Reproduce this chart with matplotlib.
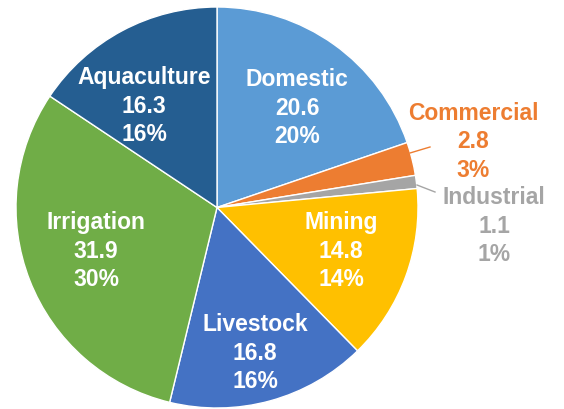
import matplotlib.pyplot as plt

plt.rcParams['font.family'] = ['Liberation Sans', 'DejaVu Sans']

categories = ['Domestic', 'Commercial', 'Industrial', 'Mining', 'Livestock', 'Irrigation', 'Aquaculture']
values = [20.6, 2.8, 1.1, 14.8, 16.8, 31.9, 16.3]
pct_labels = ['20%', '3%', '1%', '14%', '16%', '30%', '16%']
colors = ['#5B9BD5', '#ED7D31', '#A5A5A5', '#FFC000', '#4472C4', '#70AD47', '#255E91']

# pixel layout of the original picture
W, H = 564, 409
cx, cy = 217, 207.5
rx, ry = 201, 200.5
label_px = [(297, 108), (473, 142), (494, 226), (341, 251), (255, 353), (96, 251), (144, 106)]
text_colors = ['white', '#ED7D31', '#A5A5A5', 'white', 'white', 'white', 'white']
leaders = {1: ((410, 153), (430, 147)), 2: ((417, 185), (435, 192))}


def to_data(px, py):
    return (px - cx) / rx, (cy - py) / ry


fig = plt.figure(figsize=(W / 100, H / 100), dpi=100)
ax = fig.add_axes([0, 0, 1, 1])
ax.pie(values, colors=colors, startangle=90, counterclock=False, radius=1,
       wedgeprops=dict(edgecolor='white', linewidth=1))
ax.set_aspect('auto')
ax.set_xlim(-cx / rx, (W - cx) / rx)
ax.set_ylim(-(H - cy) / ry, cy / ry)
ax.axis('off')

for i, name in enumerate(categories):
    x, y = to_data(*label_px[i])
    ax.text(x, y, f'{name}\n{values[i]}\n{pct_labels[i]}', ha='center', va='center',
            color=text_colors[i], fontsize=16.5, fontweight='bold', linespacing=1.28)

for i, (p0, p1) in leaders.items():
    x0, y0 = to_data(*p0)
    x1, y1 = to_data(*p1)
    ax.plot([x0, x1], [y0, y1], color=colors[i], linewidth=1)

fig.savefig('out.png', dpi=100)
